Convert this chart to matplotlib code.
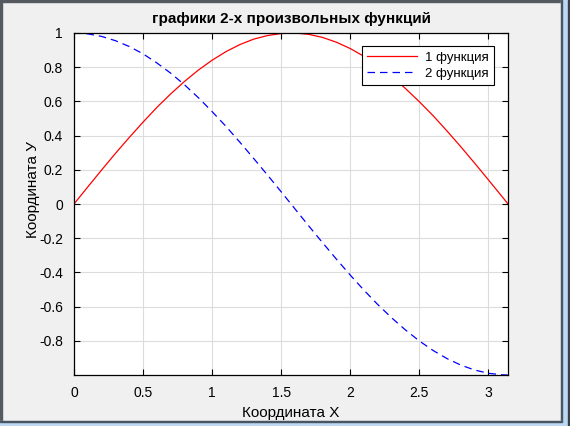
import matplotlib.pyplot as plt
from matplotlib.patches import Rectangle

plt.rcParams['font.family'] = ['Liberation Sans', 'DejaVu Sans']

# values
x = [0.0, 0.1, 0.2, 0.3, 0.4, 0.5, 0.6, 0.7, 0.8, 0.9, 1.0, 1.1, 1.2, 1.3, 1.4, 1.5,
     1.6, 1.7, 1.8, 1.9, 2.0, 2.1, 2.2, 2.3, 2.4, 2.5, 2.6, 2.7, 2.8, 2.9, 3.0, 3.1, 3.14]
y1 = [0.000, 0.100, 0.199, 0.296, 0.389, 0.479, 0.565, 0.644, 0.717, 0.783, 0.841, 0.891,
      0.932, 0.964, 0.985, 0.997, 1.000, 0.992, 0.974, 0.946, 0.909, 0.863, 0.808, 0.746,
      0.675, 0.598, 0.516, 0.427, 0.335, 0.239, 0.141, 0.042, 0.002]
y2 = [1.000, 0.995, 0.980, 0.955, 0.921, 0.878, 0.825, 0.765, 0.697, 0.622, 0.540, 0.454,
      0.362, 0.267, 0.170, 0.071, -0.029, -0.129, -0.227, -0.323, -0.416, -0.505, -0.589,
      -0.666, -0.737, -0.801, -0.857, -0.904, -0.942, -0.971, -0.990, -0.999, -1.000]
xticks = [0, 0.5, 1, 1.5, 2, 2.5, 3]
yticks = [-0.8, -0.6, -0.4, -0.2, 0, 0.2, 0.4, 0.6, 0.8, 1]

W, H = 570, 426
fig = plt.figure(figsize=(W / 100, H / 100), dpi=100, facecolor='#f0f0f0')

# window frame
def px_rect(x0, y0, w, h, color):
    fig.patches.append(Rectangle((x0 / W, 1 - (y0 + h) / H), w / W, h / H,
                                 transform=fig.transFigure, color=color, zorder=0))

px_rect(0, 0, W, 1.5, '#555a60')
px_rect(0, 0, 1.5, H, '#555a60')
px_rect(561, 0, 9, H, '#bcd8f5')
px_rect(561, 0, 1.2, 422, '#4a5560')
px_rect(568, 0, 2, H, '#3a3f44')
px_rect(0, 421, 562, 5, '#bcd8f5')
px_rect(0, 421, 562, 1.2, '#4a5560')

ax = fig.add_axes([74 / W, 1 - 375 / H, 434 / W, 342 / H])
ax.plot(x, y1, color='red', lw=0.9, label='1 функция')
ax.plot(x, y2, color='blue', lw=0.9, ls=(0, (6, 4)), label='2 функция')

ax.set_xlim(0, 3.1416)
ax.set_ylim(-1, 1)
ax.set_xticks(xticks)
ax.set_xticklabels([f'{t:g}' for t in xticks])
ax.set_yticks(yticks)
ax.set_yticklabels([f'{t:g}' for t in yticks])
ax.tick_params(direction='in', top=True, right=True, labelsize=10, length=4, width=0.8, pad=8)
ax.grid(True, color='#dcdcdc', lw=0.8)
ax.set_axisbelow(True)
for s in ax.spines.values():
    s.set_linewidth(0.9)

ax.set_title('графики 2-х произвольных функций', fontsize=11, fontweight='bold', pad=7)
ax.set_xlabel('Координата X', fontsize=11, labelpad=4)
ax.set_ylabel('Координата У', fontsize=11, va='center')
ax.yaxis.set_label_coords((33 - 74) / 434, (375 - 190) / 342)

leg = ax.legend(loc='upper right', bbox_to_anchor=(0.968, 0.961), fontsize=9.5, fancybox=False,
                framealpha=1, edgecolor='black', handlelength=3.8, borderpad=0.4,
                labelspacing=0.3, handletextpad=0.6, borderaxespad=0)
leg.get_frame().set_linewidth(0.8)

fig.savefig('out.png', dpi=100, facecolor=fig.get_facecolor())
